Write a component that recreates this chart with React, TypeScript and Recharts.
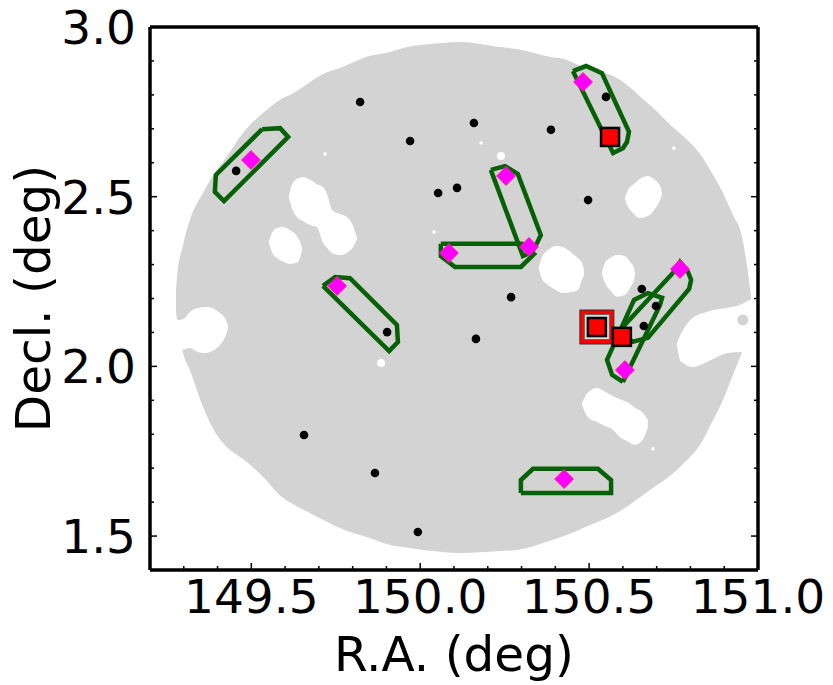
import React from 'react';
import { ComposedChart, Area, Line, Scatter, XAxis, YAxis } from 'recharts';

// field footprint, [ra, dec low, dec high]
const discEdge = [
  [149.277, 2.16, 2.225], [149.28, 2.137, 2.263], [149.298, 2.039, 2.358], [149.318, 1.989, 2.431],
  [149.357, 1.88, 2.511], [149.392, 1.807, 2.57], [149.416, 1.774, 2.602], [149.487, 1.718, 2.702],
  [149.535, 1.674, 2.747], [149.594, 1.612, 2.791], [149.614, 1.6, 2.8], [149.724, 1.542, 2.867],
  [149.762, 1.524, 2.879], [149.842, 1.497, 2.912], [149.91, 1.474, 2.926], [149.949, 1.468, 2.938],
  [150.067, 1.453, 2.953], [150.118, 1.45, 2.956], [150.236, 1.456, 2.941], [150.286, 1.459, 2.935],
  [150.384, 1.486, 2.912], [150.434, 1.503, 2.903], [150.482, 1.524, 2.882], [150.582, 1.568, 2.85],
  [150.68, 1.636, 2.77], [150.76, 1.695, 2.694], [150.778, 1.712, 2.679], [150.837, 1.783, 2.614],
  [150.858, 1.824, 2.579], [150.887, 1.88, 2.529], [150.926, 1.975, 2.446], [150.953, 2.042, 2.381],
  [150.967, 2.078, 2.299], [150.979, 2.196, 2.21],
];

// masked holes
const holeA = [
  [149.611, 2.498, 2.5], [149.62, 2.467, 2.535], [149.635, 2.44, 2.552], [149.653, 2.428, 2.558],
  [149.68, 2.414, 2.546], [149.694, 2.411, 2.537], [149.712, 2.364, 2.529], [149.727, 2.346, 2.499],
  [149.739, 2.334, 2.461], [149.762, 2.328, 2.449], [149.783, 2.334, 2.44], [149.801, 2.352, 2.414],
  [149.813, 2.376, 2.378],
];
const holeB = [
  [149.552, 2.366, 2.368], [149.561, 2.337, 2.393], [149.576, 2.319, 2.408], [149.594, 2.308, 2.411],
  [149.614, 2.302, 2.402], [149.635, 2.305, 2.384], [149.644, 2.319, 2.367], [149.65, 2.343, 2.349],
];
const holeC = [
  [150.606, 2.495, 2.497], [150.615, 2.47, 2.52], [150.63, 2.452, 2.535], [150.65, 2.437, 2.552],
  [150.674, 2.443, 2.561], [150.695, 2.464, 2.549], [150.71, 2.49, 2.532], [150.716, 2.508, 2.511],
];
const holeD = [
  [150.351, 2.289, 2.291], [150.36, 2.258, 2.322], [150.378, 2.24, 2.343], [150.402, 2.225, 2.355],
  [150.422, 2.216, 2.352], [150.449, 2.219, 2.334], [150.467, 2.225, 2.319], [150.479, 2.255, 2.305],
  [150.485, 2.269, 2.284],
];
const holeE = [
  [150.538, 2.272, 2.275], [150.547, 2.246, 2.305], [150.562, 2.225, 2.319], [150.582, 2.205, 2.328],
  [150.606, 2.21, 2.325], [150.621, 2.231, 2.308], [150.633, 2.255, 2.29], [150.636, 2.272, 2.275],
];
const holeF = [
  [150.479, 1.886, 1.892], [150.496, 1.851, 1.922], [150.523, 1.836, 1.936], [150.547, 1.824, 1.925],
  [150.57, 1.813, 1.913], [150.591, 1.792, 1.904], [150.612, 1.78, 1.895], [150.636, 1.769, 1.878],
  [150.656, 1.78, 1.866], [150.674, 1.819, 1.842],
];
const notchLeft = [
  [149.274, 2.048, 2.137], [149.289, 2.048, 2.137], [149.304, 2.051, 2.143], [149.318, 2.054, 2.16],
  [149.342, 2.042, 2.172], [149.363, 2.039, 2.175], [149.384, 2.045, 2.172], [149.407, 2.063, 2.157],
  [149.425, 2.093, 2.137], [149.431, 2.113, 2.122],
];
const notchRight = [
  [150.76, 2.063, 2.069], [150.769, 2.019, 2.09], [150.778, 2.01, 2.107], [150.807, 1.998, 2.143],
  [150.849, 2.013, 2.16], [150.867, 2.022, 2.166], [150.908, 2.039, 2.172], [150.953, 2.042, 2.184],
  [150.976, 2.042, 2.196], [150.997, 2.042, 2.205],
];
const holes = [holeA, holeB, holeC, holeD, holeE, holeF, notchLeft, notchRight];

const speckLarge = [[149.884, 2.01], [150.239, 2.62]];
const speckSmall = [[149.718, 2.626], [150.18, 2.658], [150.751, 2.643], [150.689, 1.757], [150.041, 2.396]];
const islet = [[150.955, 2.137]];

const galaxies = [
  [149.822, 2.779], [149.97, 2.664], [150.159, 2.717], [150.387, 2.697], [149.455, 2.576], [150.053, 2.511],
  [150.109, 2.526], [150.497, 2.49], [150.55, 2.794], [150.269, 2.204], [150.165, 2.081], [149.902, 2.101],
  [149.656, 1.798], [149.866, 1.686], [149.993, 1.512], [150.656, 2.228], [150.698, 2.178], [150.662, 2.119],
];
const diamonds = [
  [149.499, 2.608], [149.754, 2.237], [150.482, 2.838], [150.254, 2.561], [150.322, 2.352],
  [150.085, 2.334], [150.769, 2.287], [150.606, 1.989], [150.426, 1.668],
];
const squares = [[150.562, 2.676], [150.597, 2.087]];
const target = [[150.523, 2.116]];

// slit outlines
const slits = [
  [[149.532, 2.699], [149.585, 2.702], [149.609, 2.676], [149.419, 2.487], [149.392, 2.514], [149.395, 2.564], [149.532, 2.699]],
  [[149.712, 2.237], [149.748, 2.263], [149.792, 2.26], [149.931, 2.122], [149.934, 2.072], [149.908, 2.045], [149.712, 2.237]],
  [[150.452, 2.87], [150.491, 2.885], [150.538, 2.864], [150.618, 2.691], [150.612, 2.661], [150.6, 2.643], [150.571, 2.629], [150.452, 2.87]],
  [[150.209, 2.579], [150.251, 2.59], [150.289, 2.567], [150.357, 2.387], [150.346, 2.364], [150.331, 2.337], [150.304, 2.325], [150.209, 2.579]],
  [[150.061, 2.361], [150.301, 2.361], [150.337, 2.331], [150.298, 2.293], [150.103, 2.293], [150.061, 2.325], [150.061, 2.361]],
  [[150.298, 1.627], [150.298, 1.665], [150.334, 1.698], [150.526, 1.698], [150.565, 1.665], [150.565, 1.627], [150.298, 1.627]],
  [[150.748, 2.275], [150.769, 2.308], [150.793, 2.278], [150.802, 2.255], [150.796, 2.228], [150.674, 2.084], [150.627, 2.072], [150.597, 2.113], [150.748, 2.275]],
  [[150.6, 1.954], [150.568, 1.975], [150.553, 2.019], [150.633, 2.196], [150.674, 2.216], [150.716, 2.202], [150.71, 2.181], [150.6, 1.954]],
];

const xTicks = [149.2, 149.3, 149.4, 149.5, 149.6, 149.7, 149.8, 149.9, 150, 150.1, 150.2, 150.3, 150.4, 150.5, 150.6, 150.7, 150.8, 150.9, 151];
const yTicks = [1.4, 1.5, 1.6, 1.7, 1.8, 1.9, 2, 2.1, 2.2, 2.3, 2.4, 2.5, 2.6, 2.7, 2.8, 2.9, 3];
const xLabels = [149.5, 150, 150.5, 151];
const yLabels = [1.5, 2, 2.5, 3];

const FONT = '"DejaVu Sans", sans-serif';
const AXIS_LINE = { stroke: '#000', strokeWidth: 3.5 };

const toBand = (rows: number[][]) => rows.map(([ra, low, high]) => ({ ra, dec: [low, high] }));
const toPoints = (rows: number[][]) => rows.map(([ra, dec]) => ({ ra, dec }));

const isMajor = (v: number) => Math.abs(v * 2 - Math.round(v * 2)) < 1e-6;

const BottomTick = ({ x, y, payload }: any) => (
  <g>
    <line x1={x} x2={x} y1={y} y2={y - (isMajor(payload.value) ? 7 : 4)} stroke="#000" strokeWidth={1.5} />
    {xLabels.includes(payload.value) && (
      <text x={x} y={y + 43} textAnchor="middle" fontSize={47} fontFamily={FONT} fill="#000">
        {payload.value.toFixed(1)}
      </text>
    )}
  </g>
);
const TopTick = ({ x, y, payload }: any) => (
  <line x1={x} x2={x} y1={y} y2={y + (isMajor(payload.value) ? 7 : 4)} stroke="#000" strokeWidth={1.5} />
);
const LeftTick = ({ x, y, payload }: any) => (
  <g>
    <line x1={x} x2={x + (isMajor(payload.value) ? 7 : 4)} y1={y} y2={y} stroke="#000" strokeWidth={1.5} />
    {yLabels.includes(payload.value) && (
      <text x={x - 14} y={y + 17} textAnchor="end" fontSize={47} fontFamily={FONT} fill="#000">
        {payload.value.toFixed(1)}
      </text>
    )}
  </g>
);
const RightTick = ({ x, y, payload }: any) => (
  <line x1={x} x2={x - (isMajor(payload.value) ? 7 : 4)} y1={y} y2={y} stroke="#000" strokeWidth={1.5} />
);

const Dot = (r: number, fill: string) => ({ cx, cy }: any) => <circle cx={cx} cy={cy} r={r} fill={fill} />;

const Diamond = ({ cx, cy }: any) => (
  <polygon
    points={`${cx},${cy - 9.5} ${cx + 9.5},${cy} ${cx},${cy + 9.5} ${cx - 9.5},${cy}`}
    fill="#ff00ff"
    stroke="#ff2080"
    strokeWidth={0.8}
  />
);

const Square = ({ cx, cy }: any) => (
  <rect x={cx - 9} y={cy - 9} width={18} height={18} fill="#ff0000" stroke="#000" strokeWidth={2.5} />
);

const Target = ({ cx, cy }: any) => (
  <g>
    <rect x={cx - 17} y={cy - 17} width={34} height={34} fill="#ff0000" stroke="#333" strokeWidth={1} />
    <rect x={cx - 12.5} y={cy - 12.5} width={25} height={25} fill="#ddd" stroke="#666" strokeWidth={1} />
    <rect x={cx - 9} y={cy - 9} width={18} height={18} fill="#ff0000" stroke="#000" strokeWidth={2.5} />
  </g>
);

export default function App() {
  return (
    <div style={{ position: 'absolute', left: 0, top: 0, width: 833, height: 685, background: '#fff' }}>
      <ComposedChart width={833} height={685} margin={{ top: 26, right: 74, bottom: 0, left: 0 }}>
        <XAxis
          xAxisId={0}
          dataKey="ra"
          type="number"
          domain={[149.2, 151]}
          allowDataOverflow
          ticks={xTicks}
          interval={0}
          height={115}
          tickSize={0}
          tickMargin={0}
          tickLine={false}
          axisLine={AXIS_LINE}
          tick={BottomTick}
          label={{ value: 'R.A. (deg)', position: 'insideBottom', offset: 14, fontSize: 48.5, fontFamily: FONT, fill: '#000' }}
        />
        <XAxis
          xAxisId="top"
          orientation="top"
          type="number"
          domain={[149.2, 151]}
          allowDataOverflow
          ticks={xTicks}
          interval={0}
          height={1}
          tickSize={0}
          tickMargin={0}
          tickLine={false}
          axisLine={AXIS_LINE}
          tick={TopTick}
        />
        <YAxis
          yAxisId={0}
          dataKey="dec"
          type="number"
          domain={[1.4, 3]}
          allowDataOverflow
          ticks={yTicks}
          interval={0}
          width={150}
          tickSize={0}
          tickMargin={0}
          tickLine={false}
          axisLine={AXIS_LINE}
          tick={LeftTick}
          label={{ value: 'Decl. (deg)', angle: -90, position: 'insideLeft', offset: 33, fontSize: 48.5, fontFamily: FONT, fill: '#000', style: { textAnchor: 'middle' } }}
        />
        <YAxis
          yAxisId="right"
          orientation="right"
          type="number"
          domain={[1.4, 3]}
          allowDataOverflow
          ticks={yTicks}
          interval={0}
          width={1}
          tickSize={0}
          tickMargin={0}
          tickLine={false}
          axisLine={AXIS_LINE}
          tick={RightTick}
        />

        <Area data={toBand(discEdge)} dataKey="dec" type="monotoneX" stroke="none" fill="#d3d3d3" fillOpacity={1} dot={false} activeDot={false} isAnimationActive={false} />
        {holes.map((hole, i) => (
          <Area key={i} data={toBand(hole)} dataKey="dec" type="monotoneX" stroke="none" fill="#fff" fillOpacity={1} dot={false} activeDot={false} isAnimationActive={false} />
        ))}

        {slits.map((slit, i) => (
          <Line key={i} data={toPoints(slit)} dataKey="dec" type="linear" stroke="#066006" strokeWidth={4.5} dot={false} activeDot={false} isAnimationActive={false} />
        ))}

        <Scatter data={toPoints(speckLarge)} shape={Dot(4, '#fff')} isAnimationActive={false} />
        <Scatter data={toPoints(speckSmall)} shape={Dot(1.8, '#fff')} isAnimationActive={false} />
        <Scatter data={toPoints(islet)} shape={Dot(5.5, '#d3d3d3')} isAnimationActive={false} />
        <Scatter data={toPoints(galaxies)} shape={Dot(4.3, '#000')} isAnimationActive={false} />
        <Scatter data={toPoints(diamonds)} shape={Diamond} isAnimationActive={false} />
        <Scatter data={toPoints(target)} shape={Target} isAnimationActive={false} />
        <Scatter data={toPoints(squares)} shape={Square} isAnimationActive={false} />
      </ComposedChart>
    </div>
  );
}
